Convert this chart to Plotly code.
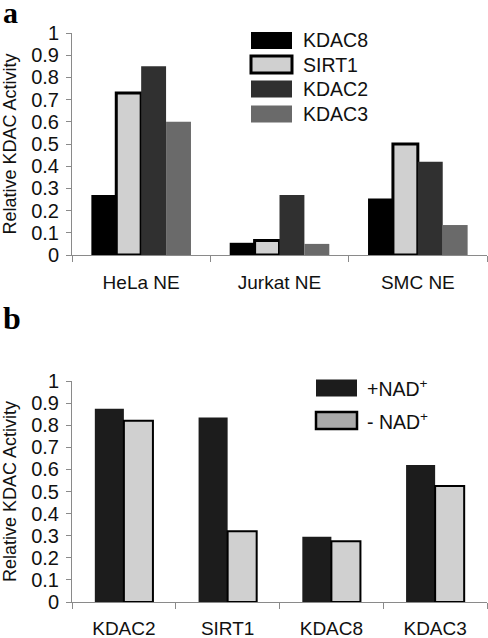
import plotly.graph_objects as go

W, H = 488, 638

# Panel a data
cells = ["HeLa NE", "Jurkat NE", "SMC NE"]
kdac8_a = [0.27, 0.055, 0.255]
sirt1_a = [0.73, 0.065, 0.50]
kdac2_a = [0.85, 0.27, 0.42]
kdac3_a = [0.60, 0.05, 0.135]

# Panel b data
enzymes = ["KDAC2", "SIRT1", "KDAC8", "KDAC3"]
plus_nad = [0.875, 0.835, 0.295, 0.62]
minus_nad = [0.82, 0.32, 0.275, 0.525]

y_ticks = [0, 0.1, 0.2, 0.3, 0.4, 0.5, 0.6, 0.7, 0.8, 0.9, 1]
y_tick_text = ["0", "0.1", "0.2", "0.3", "0.4", "0.5", "0.6", "0.7", "0.8", "0.9", "1"]

FONT = "Liberation Sans"
AXC = "#8a8a8a"


def px(x):
    return x / W


def py(y):
    return 1 - y / H


fig = go.Figure()

series_a = [
    ("KDAC8", kdac8_a, "#000000", None, 0),
    ("SIRT1", sirt1_a, "#d0d0d0", "#000000", 3),
    ("KDAC2", kdac2_a, "#303030", None, 0),
    ("KDAC3", kdac3_a, "#6a6a6a", None, 0),
]
for name, vals, col, lc, lw in series_a:
    fig.add_trace(go.Bar(
        x=cells, y=vals, name=name, xaxis="x", yaxis="y",
        marker=dict(color=col, line=dict(color=lc or col, width=lw)),
        showlegend=False,
    ))

series_b = [
    ("+NAD+", plus_nad, "#1c1c1c", "#1c1c1c", 0, -0.28),
    ("- NAD+", minus_nad, "#d0d0d0", "#000000", 2, 0.0),
]
for name, vals, col, lc, lw, off in series_b:
    fig.add_trace(go.Bar(
        x=enzymes, y=vals, name=name, xaxis="x2", yaxis="y2",
        marker=dict(color=col, line=dict(color=lc, width=lw)),
        width=0.28, offset=off,
        showlegend=False,
    ))

xa_common = dict(
    type="category", showline=True, linecolor=AXC, linewidth=1,
    ticks="outside", tickson="boundaries", ticklen=6, tickcolor=AXC,
    tickfont=dict(family=FONT, size=19, color="#111"),
    showgrid=False, zeroline=False, ticklabelstandoff=10, automargin=False,
)
ya_common = dict(
    range=[0, 1], tickvals=y_ticks, ticktext=y_tick_text,
    showline=True, linecolor=AXC, linewidth=1,
    ticks="outside", ticklen=5, tickcolor=AXC,
    tickfont=dict(family=FONT, size=20, color="#111"),
    showgrid=False, zeroline=False, automargin=False, ticklabelstandoff=3,
    title=dict(text="Relative KDAC Activity", font=dict(family=FONT, size=18, color="#111"), standoff=14),
)

fig.update_layout(
    width=W, height=H,
    margin=dict(l=0, r=0, t=0, b=0, autoexpand=False),
    paper_bgcolor="white", plot_bgcolor="white",
    barmode="group",
    bargap=0.28,
    bargroupgap=0,
    xaxis=dict(domain=[px(72), px(487)], anchor="y", range=[-0.5, 2.5], **xa_common),
    yaxis=dict(domain=[py(255), py(33)], anchor="x", **ya_common),
    xaxis2=dict(domain=[px(72), px(487)], anchor="y2", range=[-0.5, 3.5], **xa_common),
    yaxis2=dict(domain=[py(602), py(381)], anchor="x2", **ya_common),
    showlegend=False,
)
fig.layout.xaxis2.ticklabelstandoff = 9

shapes = []
annotations = []

# Legend a
leg_a = [("KDAC8", "#000000", None, 0), ("SIRT1", "#d0d0d0", "#000000", 3),
         ("KDAC2", "#303030", None, 0), ("KDAC3", "#6a6a6a", None, 0)]
centers_a = [40.5, 64.5, 89, 114]
for (name, col, lc, lw), cy in zip(leg_a, centers_a):
    shapes.append(dict(type="rect", xref="paper", yref="paper",
                       x0=px(251), x1=px(292), y0=py(cy + 8.5), y1=py(cy - 8.5),
                       fillcolor=col, line=dict(color=lc or col, width=lw)))
    annotations.append(dict(text=name, xref="paper", yref="paper", x=px(301), y=py(cy),
                            xanchor="left", yanchor="middle", showarrow=False,
                            font=dict(family=FONT, size=19.5, color="#111")))

# Legend b
leg_b = [("+NAD<sup>+</sup>", "#1c1c1c", "#1c1c1c", 0), ("- NAD<sup>+</sup>", "#aaaaaa", "#000000", 2.5)]
centers_b = [388, 420.5]
for (name, col, lc, lw), cy in zip(leg_b, centers_b):
    shapes.append(dict(type="rect", xref="paper", yref="paper",
                       x0=px(316), x1=px(357), y0=py(cy + 8.5), y1=py(cy - 8.5),
                       fillcolor=col, line=dict(color=lc, width=lw)))
    annotations.append(dict(text=name, xref="paper", yref="paper", x=px(365), y=py(cy),
                            xanchor="left", yanchor="middle", showarrow=False,
                            font=dict(family=FONT, size=19.5, color="#111")))

# Panel labels
annotations.append(dict(text="<b>a</b>", xref="paper", yref="paper", x=px(1), y=py(-6),
                        xanchor="left", yanchor="top", showarrow=False,
                        font=dict(family="Liberation Serif", size=30, color="#000")))
annotations.append(dict(text="<b>b</b>", xref="paper", yref="paper", x=px(1), y=py(298),
                        xanchor="left", yanchor="top", showarrow=False,
                        font=dict(family="Liberation Serif", size=32, color="#000")))

fig.update_layout(shapes=shapes, annotations=annotations)

fig.write_html("out.html", config={"displayModeBar": False},
               post_script="document.body.style.margin='0px';")
